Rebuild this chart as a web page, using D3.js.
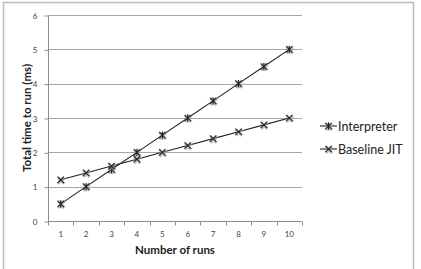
<!DOCTYPE html>
<html>
<head>
<meta charset="utf-8">
<script src="https://cdn.jsdelivr.net/npm/d3@7"></script>
<style>
  body { margin: 0; background: #fff; }
  text { font-family: Lato, "Open Sans", sans-serif; }
</style>
</head>
<body>
<script>
const runs = [1, 2, 3, 4, 5, 6, 7, 8, 9, 10];
const interpreter = [0.5, 1, 1.5, 2, 2.5, 3, 3.5, 4, 4.5, 5];
const baselineJit = [1.2, 1.4, 1.6, 1.8, 2, 2.2, 2.4, 2.6, 2.8, 3];
const yTicks = [0, 1, 2, 3, 4, 5, 6];

const width = 421;
const height = 269;
const margin = { top: 15, right: 119, bottom: 48, left: 48 };

const svg = d3.select('body').append('svg')
  .attr('width', width)
  .attr('height', height);

// chart frame
svg.append('rect')
  .attr('x', 3.5).attr('y', 2.5)
  .attr('width', 410).attr('height', 280)
  .attr('fill', 'none')
  .attr('stroke', '#bdbdbd')
  .attr('stroke-width', 1.5);

const x = d3.scaleBand()
  .domain(runs)
  .range([margin.left, width - margin.right]);

const y = d3.scaleLinear()
  .domain([0, 6])
  .range([height - margin.bottom, margin.top]);

// gridlines
svg.append('g')
  .selectAll('line')
  .data(yTicks.slice(1))
  .enter().append('line')
    .attr('x1', margin.left)
    .attr('x2', width - margin.right)
    .attr('y1', d => Math.round(y(d)) + 0.5)
    .attr('y2', d => Math.round(y(d)) + 0.5)
    .attr('stroke', '#a6a6a6')
    .attr('stroke-width', 1);

// y axis
const yAxis = svg.append('g')
  .attr('transform', `translate(${margin.left + 0.5},0.5)`)
  .call(d3.axisLeft(y).tickValues(yTicks).tickFormat(d3.format('d')).tickSize(4).tickPadding(7));
yAxis.selectAll('line, path').attr('stroke', '#8c8c8c');
yAxis.select('.domain').attr('d', `M0,${y(6)}V${y(0)}`);
yAxis.selectAll('text').attr('font-size', 8).attr('fill', '#444')
  .style('font-family', 'Lato, sans-serif');

// x axis with ticks on band boundaries
const xAxis = svg.append('g')
  .attr('transform', `translate(0,${Math.round(y(0)) + 0.5})`);
xAxis.append('line')
  .attr('x1', margin.left).attr('x2', width - margin.right)
  .attr('stroke', '#8c8c8c');
xAxis.selectAll('.tick')
  .data(runs.concat([11]))
  .enter().append('line')
    .attr('x1', (d, i) => Math.round(margin.left + i * x.bandwidth()) + 0.5)
    .attr('x2', (d, i) => Math.round(margin.left + i * x.bandwidth()) + 0.5)
    .attr('y1', 0).attr('y2', 4)
    .attr('stroke', '#8c8c8c');
xAxis.selectAll('.lbl')
  .data(runs)
  .enter().append('text')
    .attr('x', d => x(d) + x.bandwidth() / 2)
    .attr('y', 15)
    .attr('text-anchor', 'middle')
    .attr('font-size', 8)
    .attr('fill', '#444')
    .text(d => d);

// axis titles
svg.append('text')
  .attr('transform', `translate(31,${(y(0) + y(6)) / 2}) rotate(-90)`)
  .attr('text-anchor', 'middle')
  .attr('font-size', 11.5)
  .attr('font-weight', 'bold')
  .attr('fill', '#222')
  .text('Total time to run (ms)');

svg.append('text')
  .attr('x', (margin.left + width - margin.right) / 2)
  .attr('y', 254)
  .attr('text-anchor', 'middle')
  .attr('font-size', 11.5)
  .attr('font-weight', 'bold')
  .attr('fill', '#222')
  .text('Number of runs');

const cx = d => x(d) + x.bandwidth() / 2;

function drawMarker(g, px, py, star) {
  const s = 3.2;
  let d = `M${px - s},${py - s}L${px + s},${py + s}M${px - s},${py + s}L${px + s},${py - s}`;
  if (star) d += `M${px},${py - s - 0.5}V${py + s + 0.5}`;
  g.append('path').attr('d', d)
    .attr('stroke', '#999').attr('stroke-width', 3).attr('opacity', 0.6)
    .attr('transform', 'translate(0.5,0.8)');
  g.append('path').attr('d', d)
    .attr('stroke', '#222').attr('stroke-width', 1.1);
}

const series = [
  { name: 'Interpreter', values: interpreter, star: true },
  { name: 'Baseline JIT', values: baselineJit, star: false }
];

const line = d3.line()
  .x((v, i) => cx(runs[i]))
  .y(v => y(v));

series.forEach((s) => {
  svg.append('path')
    .datum(s.values)
    .attr('d', line)
    .attr('fill', 'none')
    .attr('stroke', '#222')
    .attr('stroke-width', 1.1);
  const g = svg.append('g');
  s.values.forEach((v, i) => drawMarker(g, cx(runs[i]), y(v), s.star));
});

// legend
const legend = svg.append('g');
series.forEach((s, i) => {
  const ly = 126 + i * 23;
  legend.append('line')
    .attr('x1', 320).attr('x2', 337)
    .attr('y1', ly).attr('y2', ly)
    .attr('stroke', '#222').attr('stroke-width', 1.1);
  drawMarker(legend, 328.5, ly, s.star);
  legend.append('text')
    .attr('x', 338).attr('y', ly + 4.5)
    .attr('font-size', 12.5)
    .attr('fill', '#222')
    .text(s.name);
});
</script>
</body>
</html>
